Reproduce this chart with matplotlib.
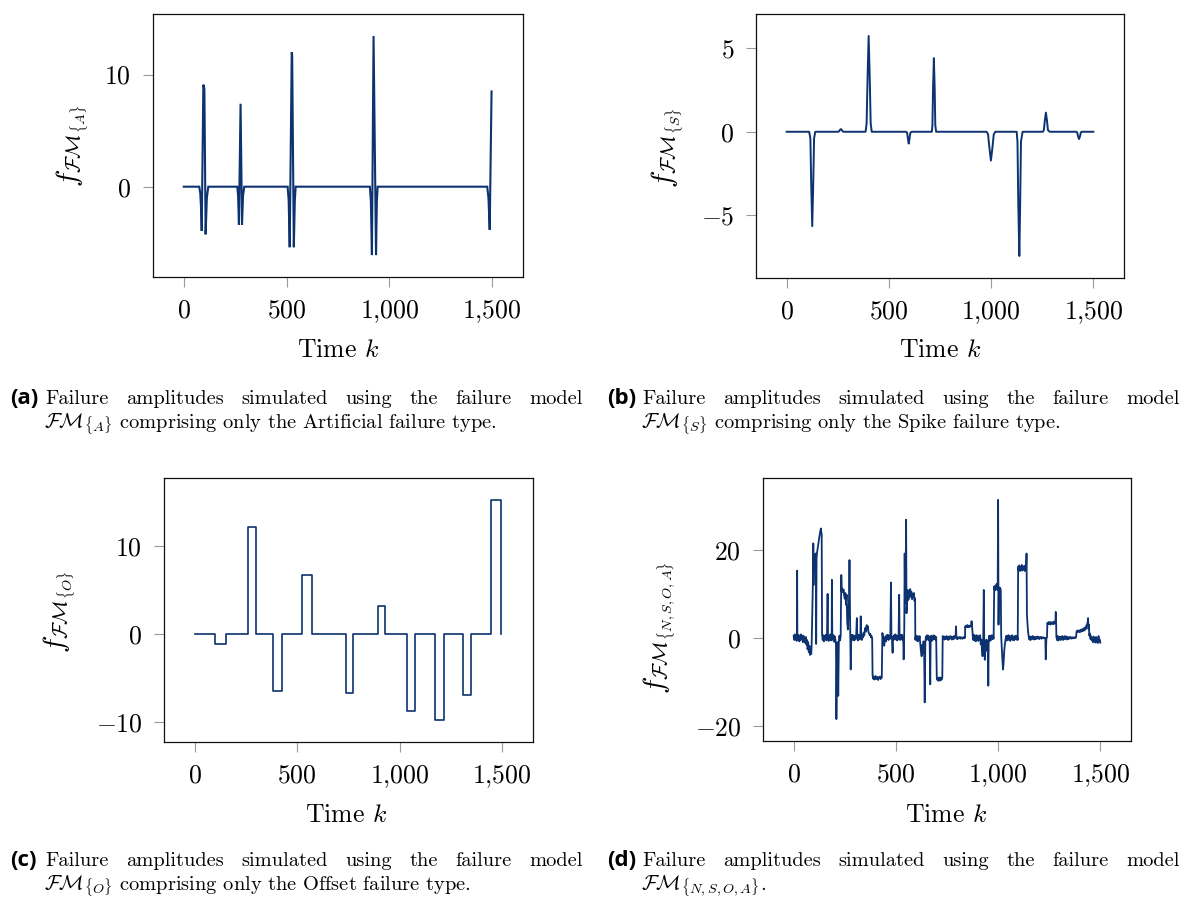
import matplotlib
matplotlib.use("Agg")
import matplotlib.pyplot as plt
from matplotlib.ticker import FixedLocator, FuncFormatter

plt.rcParams["mathtext.fontset"] = "cm"
plt.rcParams["font.family"] = "cmr10"
plt.rcParams["axes.formatter.use_mathtext"] = True

# ---------------------------------------------------------------- data
# (a) artificial failure type: breakpoints of the amplitude trace
art_k = [0, 75, 80, 84, 87, 95, 100, 106, 112, 119,
         260, 264, 268, 276, 283, 288, 294,
         505, 510, 515, 525, 527, 535, 540, 544,
         905, 910, 915, 923, 935, 939, 943,
         1476, 1482, 1488, 1497]
art_val = [0, 0, -0.6, -2.0, -3.95, 9.1, 8.7, -4.25, -1.0, 0,
           0, -0.8, -3.4, 7.4, -3.4, -0.8, 0,
           0, -1.2, -5.4, 12.0, 11.7, -5.4, -1.2, 0,
           0, -1.3, -6.1, 13.45, -6.1, -1.3, 0,
           0, -1.0, -3.85, 8.5]

# (b) spike failure type
spk_k = [0,
         110, 116, 120, 125, 130, 134, 140,
         250, 256, 260, 265, 270, 274, 280,
         386, 391, 396, 401, 406, 411, 416,
         585, 589, 593, 597, 601, 605, 612,
         710, 713, 716, 720, 724, 727, 731,
         978, 985, 992, 999, 1006, 1013, 1021,
         1125, 1129, 1133, 1138, 1142, 1146, 1154,
         1253, 1258, 1263, 1268, 1273, 1278, 1287,
         1417, 1421, 1425, 1430, 1435, 1439, 1443,
         1500]
spk_val = [0,
           0, -0.4, -3.1, -5.67, -3.1, -0.4, 0,
           0, 0.02, 0.1, 0.16, 0.1, 0.02, 0,
           0, 0.5, 3.4, 5.75, 3.4, 0.5, 0,
           0, -0.06, -0.4, -0.71, -0.4, -0.06, 0,
           0, 0.4, 2.6, 4.42, 2.6, 0.4, 0,
           0, -0.15, -1.0, -1.73, -1.0, -0.15, 0,
           0, -0.6, -4.4, -7.46, -4.4, -0.6, 0,
           0, 0.1, 0.7, 1.15, 0.7, 0.1, 0,
           0, -0.04, -0.26, -0.44, -0.26, -0.04, 0,
           0]

# (c) offset failure type: step levels starting at each breakpoint
off_k = [0, 100, 150, 260, 300, 382, 427, 525, 574, 736, 772, 894, 930,
         1037, 1075, 1172, 1216, 1308, 1347, 1446, 1495]
off_val = [0, -1.1, 0, 12.2, 0, -6.5, 0, 6.7, 0, -6.7, 0, 3.2, 0,
           -8.8, 0, -9.8, 0, -6.9, 0, 15.3, 0]

# (d) combined noise / spike / offset / artificial failure types
mix_k = [
    0, 3, 5, 8, 11, 14, 16, 17, 18, 21, 24, 27, 30, 33, 36, 39, 42, 45, 48, 51, 54, 57, 60, 63, 66,
    68, 71, 74, 77, 80, 83, 86, 88, 90, 92, 94, 96, 97, 99, 102, 105, 107, 109, 110, 112, 115, 118,
    121, 124, 127, 130, 133, 135, 137, 139,
    142, 145, 148, 151, 154, 157, 160, 163, 166, 168, 171, 174, 177, 180, 183, 186, 187, 189, 192,
    195, 198, 201, 204, 207, 209, 212, 215, 218, 221, 224, 227, 230, 233, 235, 238, 241, 244, 247,
    250, 253, 256, 259, 262, 265, 268, 271, 273, 276, 279, 282, 285, 288, 291, 294, 297, 300, 303,
    306, 309, 311, 314, 317, 320, 323, 326, 328, 330, 333, 336, 339, 342, 345, 348, 351, 354, 357,
    360, 363, 366, 369, 372, 375, 378, 381, 384,
    386, 389, 392, 395, 398, 401, 404, 407, 410, 413, 416, 419, 422, 425, 428, 431,
    434, 437, 440, 443, 446, 449, 452, 455, 458, 461, 464, 467, 470, 473, 476, 478, 481, 484, 486,
    489, 492, 495, 498, 501, 504, 507, 510, 513, 516, 518, 521, 524, 527, 530, 533, 536, 538, 541,
    543, 545, 548, 550, 552, 555, 558, 561, 564, 567, 570, 573, 576, 579, 582, 585, 588, 591, 594,
    595, 598, 601, 604, 607, 610, 613, 616, 619, 622, 626, 629, 632, 635, 638, 641, 644, 647, 650,
    653, 656, 659, 662, 665, 668, 670, 673, 676, 679, 682, 685, 688, 691, 694, 697,
    700, 703, 706, 709, 712, 715, 718, 721, 724, 727,
    729, 732, 735, 738, 741, 744, 747, 750, 753, 756, 759, 762, 765, 768, 771, 774, 777, 780, 783,
    786, 789, 792, 794, 796, 799, 802, 805, 808, 811, 814, 817, 820, 823, 826, 829, 832, 835, 838,
    839, 842, 845, 848, 851, 854, 857, 860, 863, 866, 869, 870, 873, 876,
    879, 882, 885, 888, 891, 894, 897, 900, 903, 906, 909, 912, 915, 918, 921, 924, 927, 930, 932,
    935, 937, 940, 943, 946, 949, 952, 954, 957, 960, 963, 966, 969, 972, 975, 978,
    981, 984, 987, 990, 993, 996, 998, 1000, 1002, 1004, 1007, 1010, 1013, 1015, 1018, 1021, 1024,
    1027, 1030, 1033, 1036, 1039, 1042, 1045, 1048, 1051, 1054, 1057, 1060, 1063, 1066, 1069, 1072,
    1075, 1078, 1081, 1084, 1087, 1090, 1093, 1096,
    1098, 1101, 1104, 1107, 1110, 1113, 1116, 1119, 1122, 1125, 1128, 1131, 1134, 1137, 1139, 1141,
    1144, 1147, 1150, 1153, 1156, 1159, 1162, 1165, 1168, 1171, 1174, 1177, 1180, 1183, 1186, 1189,
    1192, 1195, 1198, 1201, 1204, 1207, 1210, 1213, 1216, 1219, 1222, 1225, 1228, 1231, 1233, 1236,
    1239, 1241, 1244, 1247, 1250, 1253, 1256, 1259, 1262, 1265, 1268, 1271, 1274, 1277, 1280, 1282,
    1284, 1285, 1288, 1291, 1294, 1297, 1300, 1303, 1306, 1309, 1312, 1315, 1318, 1321, 1324, 1327,
    1330, 1333, 1336, 1339, 1342, 1345, 1348, 1351, 1354, 1357, 1360, 1363, 1366, 1369, 1372, 1375,
    1378, 1381, 1384, 1387, 1390, 1393, 1396, 1399, 1402, 1405, 1408, 1411, 1414, 1417, 1420, 1423,
    1426, 1429, 1432, 1435, 1438, 1440, 1442, 1444, 1446, 1449, 1452, 1455, 1458, 1461, 1464, 1467,
    1470, 1473, 1476, 1479, 1482, 1485, 1488, 1491, 1494, 1497, 1500]
mix_val = [
    0.4, -0.5, 0.8, -0.3, 0.6, -0.7, 0.3, 15.3, 0.5, -0.4, 0.7, -0.8, 0.2, -0.6, 0.8, -0.3, 0.4, -1.0, 0.5, -0.6, -0.1, -1.2, 0.2, -1.6, -0.5,
    -2.6, -1.0, -3.3, -1.8, -3.9, -2.5, -3.7, -1.5, 3.5, 8.2, 12.5, 21.5, 12.0, 17.5, 18.8, 16.8, 19.2, 17.9, -1.4, 18.2, 19.6, 20.5,
    21.6, 22.5, 23.4, 24.2, 24.9, 24.1, 23.6, 0.8,
    -0.5, 0.6, -0.8, 0.4, -0.3, 0.7, -0.6, 0.3, 10.0, 0.2, -0.7, 0.5, -0.4, 0.8, -0.6, 0.2, 13.2, 0.4, -0.5,
    0.6, -0.9, 0.3, -0.4, -1.5, -18.5, -3.0, -1.0, -13.2, -0.8, 0.5, -0.6, 0.4, 14.3, 10.5, 11.2, 10.4, 11.0, 9.6,
    8.9, 10.2, 7.5, 9.8, 3.5, 1.9, 6.0, 9.0, 17.7, 4.0, -7.2, 0.6, -0.4, 0.7, -0.5, 0.4, -0.6, 0.5, -0.3,
    0.6, 4.5, 0.2, -0.6, 0.7, -0.4, 0.5, -0.2, 4.9, 0.3, -0.5, 0.6, 0.1, 1.2, 0.5, 1.6, 2.3, 1.4, 2.9,
    2.1, 2.6, 1.3, 1.0, 0.6, 0.9, 0.1, 0.4, -0.2,
    -8.6, -9.3, -8.8, -9.5, -9.0, -8.7, -9.4, -9.1, -8.9, -9.6, -9.0, -9.2, -8.8, -9.4, -9.0, -9.1,
    1.1, 0.2, -0.6, -1.8, -0.4, 0.3, -0.8, 0.6, -0.2, 0.7, -0.5, 0.4, -0.3, 0.9, 12.6, 0.5, -0.4, -3.4, 0.3,
    -0.5, 0.6, -0.2, 0.8, -0.4, 0.5, -0.6, 0.3, -0.2, 9.8, 0.4, -0.5, 0.6, -0.3, 0.7, -0.5, 0.2, -4.9, 2.0,
    19.2, 8.0, 15.0, 26.9, 5.6, 9.0, 10.9, 8.6, 10.4, 9.2, 11.1, 9.6, 10.5, 8.8, 10.0, 9.3, 10.2, 8.4, 9.0,
    -0.4, 0.5, -0.6, 0.4, -0.8, 0.3, -0.5, 0.4, -1.2, -2.8, -4.2, -1.6, -3.5, -0.8, -2.0, -14.7, -1.0, 0.3, -0.5,
    0.6, -0.3, 0.5, -0.6, 0.2, -10.6, -0.3, 0.5, -0.7, 0.3, -0.4, 0.6, -0.2, 0.4, -0.5, 0.2,
    -9.0, -9.6, -9.1, -9.8, -9.3, -9.0, -9.7, -9.2, -9.5, -9.0,
    0.4, -0.2, 0.3, -0.4, 0.2, -0.3, 0.4, -0.2, 0.3, -0.5, 0.2, -0.3, 0.4, -0.1, 0.3, -0.4, 0.2, -0.3, 0.4,
    -0.2, 0.3, 0.1, 2.6, 0.2, -0.3, 0.1, -0.2, 0.1, -0.1, 0.2, -0.2, 0.0, 0.1, -0.2, 0.1, -0.1, 0.2, 0.0,
    2.6, 2.4, 2.8, 2.5, 2.9, 2.4, 2.7, 2.5, 2.8, 2.6, 3.0, 3.8, 2.5, 0.4,
    -0.5, 0.7, -0.6, 0.4, -0.8, 0.6, -0.3, 0.5, -0.7, 0.3, -0.5, 0.6, -1.5, -0.4, -2.8, -4.2, -1.0, 10.9, -0.5,
    -5.0, -1.0, -2.6, -0.4, -3.0, -0.8, -10.9, -0.6, 0.5, -0.7, 0.4, -0.5, 0.6, -0.3, 0.5, -0.2,
    11.7, 10.8, 11.9, 11.2, 12.3, 10.9, 11.6, 31.4, 3.0, 11.5, 10.8, 11.4, 10.9, 0.5, -2.5, -5.0, -7.2,
    -5.5, -3.0, -1.5, -0.5, 0.4, -0.6, 0.5, -0.4, 0.6, -0.5, 0.3, -0.7, 0.4, -0.3, 0.6, -0.5,
    0.2, -0.6, 0.4, -0.3, 0.5, -0.4, 0.3, -0.5,
    16.2, 15.4, 16.5, 15.2, 16.0, 15.5, 16.6, 15.3, 16.1, 15.6, 16.4, 15.2, 16.0, 15.8, 19.2, 5.3,
    3.0, 1.2, 0.2, -0.4, 0.3, -0.5, 0.2, -0.3, 0.4, -0.2, 0.3, -0.4, 0.2, -0.3, 0.1, -0.2,
    0.3, -0.1, 0.2, -0.3, 0.1, -0.1, 0.2, -0.2, 0.1, 0.0, 0.1, -0.1, 0.0, 0.0, -4.9, -0.2,
    0.1, 3.4, 3.1, 3.6, 3.2, 3.5, 3.0, 3.6, 3.3, 3.4, 3.1, 3.7, 3.2, 3.5, 3.3, 5.9,
    3.0, 0.2, -0.5, 0.4, -0.6, 0.3, -0.4, 0.2, -0.5, 0.3, -0.3, 0.4, -0.5, 0.2, -0.3, 0.4,
    -0.2, 0.3, -0.4, 0.2, -0.3, 0.1, -0.2, 0.2, -0.1, 0.1, -0.2, 0.1, 0.0, 0.1, -0.1, 0.1,
    0.0, 0.1, 1.5, 1.3, 1.7, 1.4, 1.6, 1.3, 1.8, 1.4, 1.9, 1.5, 2.0, 1.6, 2.2, 1.7,
    2.4, 2.0, 2.8, 3.0, 3.6, 4.5, 2.0, 3.0, 0.5, 1.0, -0.3, 0.4, -0.6, -0.2, -1.0, 0.3,
    -0.8, -0.2, -1.1, 0.2, -0.9, -0.3, -1.2, 0.4, -0.8, -0.4, -1.1]

x_ticks = [0, 500, 1000, 1500]
y_ticks_a = [0, 10]
y_ticks_b = [-5, 0, 5]
y_ticks_c = [-10, 0, 10]
y_ticks_d = [-20, 0, 20]

ylabels = [r"$f_{\mathcal{FM}_{\{A\}}}$", r"$f_{\mathcal{FM}_{\{S\}}}$",
           r"$f_{\mathcal{FM}_{\{O\}}}$", r"$f_{\mathcal{FM}_{\{N,S,O,A\}}}$"]
caption_tags = ["(a)", "(b)", "(c)", "(d)"]
caption_first = "Failure amplitudes simulated using the failure model"
caption_second = [
    r"$\mathcal{FM}_{\{A\}}$ comprising only the Artificial failure type.",
    r"$\mathcal{FM}_{\{S\}}$ comprising only the Spike failure type.",
    r"$\mathcal{FM}_{\{O\}}$ comprising only the Offset failure type.",
    r"$\mathcal{FM}_{\{N,S,O,A\}}$.",
]

# ---------------------------------------------------------------- layout
W, H = 1183, 902
LINE = "#0c3270"
TICK_FS = 18.5
fig = plt.figure(figsize=(W / 100, H / 100), dpi=100)


def axes_px(left, top, right, bottom):
    return fig.add_axes([left / W, 1 - bottom / H, (right - left) / W, (bottom - top) / H])


def fmt_tick(v, _pos=None):
    s = "{:,}".format(int(round(v))).replace(",", "{,}")
    return "$" + s + "$"


def style(ax, yticks, k, v):
    ax.set_xlim(-150, 1650)
    lo, hi = min(v), max(v)
    pad = 0.1 * (hi - lo)
    ax.set_ylim(lo - pad, hi + pad)
    ax.xaxis.set_major_locator(FixedLocator(x_ticks))
    ax.yaxis.set_major_locator(FixedLocator(yticks))
    ax.xaxis.set_major_formatter(FuncFormatter(fmt_tick))
    ax.yaxis.set_major_formatter(FuncFormatter(fmt_tick))
    ax.tick_params(direction="out", length=7.2, width=0.8, color="#9a9a9a",
                   labelsize=TICK_FS, pad=8.5, top=False, right=False)
    for sp in ax.spines.values():
        sp.set_linewidth(0.9)
        sp.set_color("#111111")


ax_a = axes_px(153, 14, 523, 277)
ax_b = axes_px(756, 14, 1124, 278)
ax_c = axes_px(164, 478, 533, 742)
ax_d = axes_px(763, 478, 1131, 741)

ax_a.plot(art_k, art_val, color=LINE, lw=1.5, solid_joinstyle="miter")
style(ax_a, y_ticks_a, art_k, art_val)

ax_b.plot(spk_k, spk_val, color=LINE, lw=1.4)
style(ax_b, y_ticks_b, spk_k, spk_val)

ax_c.plot(off_k, off_val, color=LINE, lw=1.2, drawstyle="steps-post")
style(ax_c, y_ticks_c, off_k, off_val)

ax_d.plot(mix_k, mix_val, color=LINE, lw=1.3)
style(ax_d, y_ticks_d, mix_k, mix_val)


def ftext(x, y, s, **kw):
    return fig.text(x / W, 1 - y / H, s, **kw)


# axis titles
for xc, yc in [(338, 350), (940, 350), (346, 815), (946, 815)]:
    ftext(xc, yc, r"Time $k$", fontsize=TICK_FS, ha="center", va="center")

for (xc, yc), lab in zip([(73, 146), (668, 148), (60, 612), (660, 628)], ylabels):
    ftext(xc, yc, lab, fontsize=21, rotation=90, ha="center", va="center")

# captions
renderer = fig.canvas.get_renderer()
CAP_FS = 14.7


def justified(words, x0, x1, y):
    items = [ftext(0, y, w, fontsize=CAP_FS, va="baseline") for w in words]
    widths = [t.get_window_extent(renderer).width for t in items]
    gap = (x1 - x0 - sum(widths)) / (len(words) - 1)
    x = x0
    for t, w in zip(items, widths):
        t.set_x(x / W)
        x += w + gap


cap_pos = [(10, 404), (607, 404), (10, 866), (607, 866)]
for (x0, yb), tag, second in zip(cap_pos, caption_tags, caption_second):
    ftext(x0, yb, tag, fontsize=16, fontweight="bold", family="Open Sans", va="baseline")
    justified(caption_first.split(), x0 + 35, x0 + 573, yb)
    ftext(x0 + 34, yb + 24, second, fontsize=CAP_FS, va="baseline")

fig.savefig("out.png", dpi=100)
